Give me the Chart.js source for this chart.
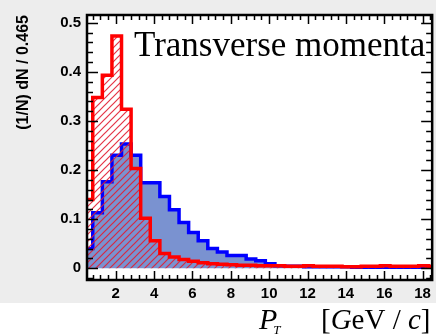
<!DOCTYPE html>
<html>
<head>
<meta charset="utf-8">
<script src="https://cdn.jsdelivr.net/npm/chart.js@4.4.1/dist/chart.umd.min.js"></script>
<style>
  html, body { margin: 0; padding: 0; background: #fff; }
  #wrap { width: 436px; height: 336px; }
</style>
</head>
<body>
<div id="wrap"><canvas id="pt-chart" width="436" height="336"></canvas></div>
<script>
// low edges of the 0.5 GeV/c bins
const binLow = [0.3, 0.8, 1.3, 1.8, 2.3, 2.8, 3.3, 3.8, 4.3, 4.8, 5.3, 5.8,
                6.3, 6.8, 7.3, 7.8, 8.3, 8.8, 9.3, 9.8, 10.3, 10.8, 11.3, 11.8,
                12.3, 12.8, 13.3, 13.8, 14.3, 14.8, 15.3, 15.8, 16.3, 16.8, 17.3, 17.8, 18.3];
const binWidth = 0.5;

// red (hatched) spectrum
const redCounts = [0.140, 0.348, 0.393, 0.473, 0.324, 0.203, 0.102, 0.056, 0.030, 0.023, 0.018, 0.014,
                   0.011, 0.009, 0.008, 0.007, 0.006, 0.006, 0.005, 0.005, 0.005, 0.004, 0.004, 0.005,
                   0.004, 0.004, 0.004, 0.003, 0.003, 0.004, 0.004, 0.005, 0.004, 0.004, 0.004, 0.005, 0.004];

// blue (filled) spectrum
const blueCounts = [0.040, 0.113, 0.176, 0.230, 0.253, 0.230, 0.174, 0.174, 0.146, 0.119, 0.093, 0.073,
                    0.056, 0.040, 0.033, 0.026, 0.026, 0.019, 0.015, 0.009, 0.005, 0.004, 0.004, 0.003,
                    0.003, 0.003, 0.003, 0.003, 0.002, 0.002, 0.002, 0.002, 0.002, 0.002, 0.002, 0.002, 0.002];

const xTickLabels = [2, 4, 6, 8, 10, 12, 14, 16, 18];
const yTickLabels = [0, 0.1, 0.2, 0.3, 0.4, 0.5];

// histogram outline as step points, closed down to zero at both ends
function stepPoints(values) {
  const pts = [{ x: binLow[0], y: 0 }];
  values.forEach((v, i) => pts.push({ x: binLow[i], y: v }));
  pts.push({ x: binLow[binLow.length - 1] + binWidth, y: 0 });
  return pts;
}

// diagonal hatching for the red histogram
function hatch(color) {
  const s = 7;
  const c = document.createElement('canvas');
  c.width = s; c.height = s;
  const g = c.getContext('2d');
  g.strokeStyle = color;
  g.lineWidth = 1.2;
  g.beginPath();
  g.moveTo(-1, s + 1); g.lineTo(s + 1, -1);
  g.moveTo(-1, 1); g.lineTo(1, -1);
  g.moveTo(s - 1, s + 1); g.lineTo(s + 1, s - 1);
  g.stroke();
  return g.createPattern(c, 'repeat');
}

const ctx = document.getElementById('pt-chart').getContext('2d');

// grey page, white plot frame with inward ticks, extra labels
const framePlugin = {
  id: 'frame',
  beforeDraw(chart) {
    const { ctx, chartArea: a, width, height } = chart;
    ctx.save();
    ctx.fillStyle = '#ffffff';
    ctx.fillRect(0, 0, width, height);
    ctx.fillStyle = '#ededed';
    ctx.fillRect(0, 0, width, 303);
    ctx.fillStyle = '#ffffff';
    ctx.fillRect(a.left, a.top, a.right - a.left, a.bottom - a.top);
    ctx.restore();
  },
  afterDraw(chart) {
    const { ctx, chartArea: a, scales: { x, y } } = chart;
    ctx.save();
    ctx.strokeStyle = '#000';
    ctx.lineWidth = 1.5;
    ctx.beginPath();
    for (let v = 0.8; v < 18.5; v += 0.4) {
      const px = Math.round(x.getPixelForValue(v)) + 0.5;
      const major = Math.abs(v / 2 - Math.round(v / 2)) < 1e-6;
      const len = major ? 9 : 5;
      ctx.moveTo(px, a.bottom); ctx.lineTo(px, a.bottom - len);
      ctx.moveTo(px, a.top); ctx.lineTo(px, a.top + len);
    }
    for (let v = -0.02; v < 0.52; v += 0.02) {
      const py = Math.round(y.getPixelForValue(v)) + 0.5;
      const major = Math.abs(v * 10 - Math.round(v * 10)) < 1e-6;
      const len = major ? 11 : 6;
      ctx.moveTo(a.left, py); ctx.lineTo(a.left + len, py);
      ctx.moveTo(a.right, py); ctx.lineTo(a.right - len, py);
    }
    ctx.stroke();
    ctx.lineWidth = 2.5;
    ctx.strokeRect(a.left, a.top, a.right - a.left, a.bottom - a.top);

    // caption inside the frame
    ctx.fillStyle = '#000';
    ctx.textBaseline = 'alphabetic';
    ctx.textAlign = 'left';
    ctx.font = '35px "Liberation Serif"';
    ctx.fillText('Transverse momenta', 134, 56);

    // x title: P_T [GeV / c]
    const base = 329;
    let cx = 259;
    const put = (txt, font, dy = 0) => {
      ctx.font = font;
      ctx.fillText(txt, cx, base + dy);
      cx += ctx.measureText(txt).width;
    };
    put('P', 'italic 30px "Liberation Serif"');
    cx -= 4;
    put('T', 'italic 13px "Liberation Serif"', 5);
    cx = 321;
    put('[', '29px "Liberation Serif"');
    put('G', 'italic 29px "Liberation Serif"');
    put('eV', '29px "Liberation Serif"');
    put(' / ', '29px "Liberation Serif"');
    put('c', 'italic 29px "Liberation Serif"');
    put(']', '29px "Liberation Serif"');
    ctx.restore();
  }
};

new Chart(ctx, {
  type: 'line',
  data: {
    datasets: [
      {
        label: 'red',
        data: stepPoints(redCounts),
        stepped: 'before',
        borderColor: '#ff0000',
        borderWidth: 3.5,
        backgroundColor: hatch('rgba(225, 30, 50, 0.9)'),
        fill: 'origin',
        pointRadius: 0,
        order: 0
      },
      {
        label: 'blue',
        data: stepPoints(blueCounts),
        stepped: 'before',
        borderColor: '#0000ff',
        borderWidth: 3.5,
        backgroundColor: 'rgb(122, 146, 208)',
        fill: 'origin',
        pointRadius: 0,
        order: 1
      }
    ]
  },
  options: {
    responsive: false,
    animation: false,
    devicePixelRatio: 1,
    layout: { padding: { top: 10, right: 3, left: 0, bottom: 0 } },
    plugins: { legend: { display: false }, tooltip: { enabled: false } },
    scales: {
      x: {
        type: 'linear',
        min: 0.5,
        max: 18.5,
        afterFit: s => { s.height = 56; },
        afterBuildTicks: s => { s.ticks = xTickLabels.map(v => ({ value: v })); },
        grid: { display: false, drawTicks: false },
        border: { display: false },
        ticks: {
          autoSkip: false,
          maxRotation: 0,
          padding: 5,
          color: '#000',
          font: { family: '"Liberation Sans", Arial, sans-serif', size: 15, weight: 'bold' },
          callback: v => String(v)
        }
      },
      y: {
        type: 'linear',
        min: -0.024,
        max: 0.516,
        afterFit: s => { s.width = 87; },
        afterBuildTicks: s => { s.ticks = yTickLabels.map(v => ({ value: v })); },
        grid: { display: false, drawTicks: false },
        border: { display: false },
        title: {
          display: true,
          text: '(1/N) dN / 0.465',
          align: 'end',
          color: '#000',
          padding: { top: 14, bottom: 0 },
          font: { family: '"Liberation Sans", Arial, sans-serif', size: 16, weight: 'bold' }
        },
        ticks: {
          autoSkip: false,
          padding: 6,
          color: '#000',
          font: { family: '"Liberation Sans", Arial, sans-serif', size: 15, weight: 'bold' },
          callback: v => String(v)
        }
      }
    }
  },
  plugins: [framePlugin]
});
</script>
</body>
</html>
